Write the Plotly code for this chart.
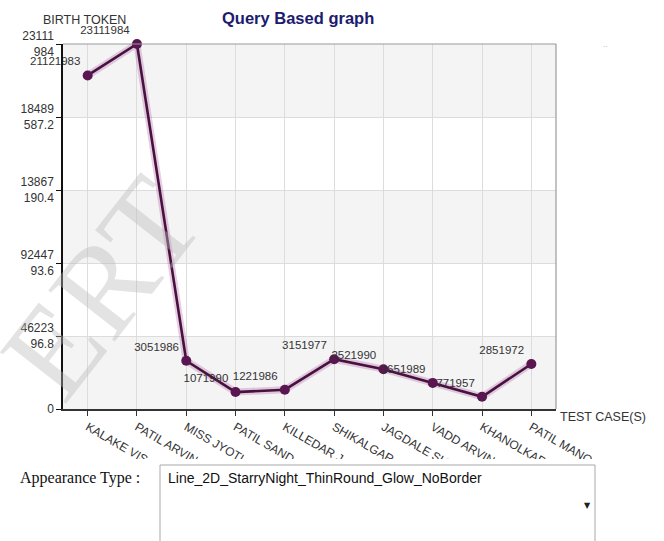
import plotly.graph_objects as go

# Test cases (x categories, truncated as displayed) and their birth tokens
categories = ["KALAKE VIS..", "PATIL ARVIN..", "MISS JYOTI ..", "PATIL SAND..", "KILLEDAR J..",
              "SHIKALGAR ..", "JAGDALE SU..", "VADD ARVIN..", "KHANOLKAR..", "PATIL MANO.."]
birth_token = [21121983, 23111984, 3051986, 1071990, 1221986,
               3151977, 2521990, 1651989, 771957, 2851972]

# Y axis ticks (value axis split into five steps) and their wrapped labels
y_max = 23111984
y_tickvals = [0, 4622396.8, 9244793.6, 13867190.4, 18489587.2, 23111984]
y_ticktext = ["0", "46223<br>96.8", "92447<br>93.6", "13867<br>190.4", "18489<br>587.2", "23111<br>984"]

W, H = 664, 541
ML, MR, MT, MB = 63, 108, 44, 132
PW, PH = W - ML - MR, H - MT - MB


def px(x):
    return (x - ML) / PW


def py(y):
    return (H - MB - y) / PH


fig = go.Figure()

# soft glow under the line
fig.add_trace(go.Scatter(
    x=categories, y=birth_token, mode="lines",
    line=dict(color="rgba(165,80,155,0.28)", width=7),
    hoverinfo="skip", showlegend=False, cliponaxis=False))

fig.add_trace(go.Scatter(
    x=categories, y=birth_token, mode="lines+markers+text",
    line=dict(color="#48113f", width=2.6),
    marker=dict(color="#5a1650", size=10),
    text=[str(v) for v in birth_token], textposition="top left",
    textfont=dict(family="Liberation Sans, Arial", size=11.5, color="#333333"),
    showlegend=False, cliponaxis=False))

shapes = []
# alternating horizontal bands
for i in range(5):
    shapes.append(dict(type="rect", xref="paper", yref="y", x0=0, x1=1,
                       y0=y_tickvals[i], y1=y_tickvals[i + 1],
                       fillcolor="#f4f4f4" if i % 2 == 0 else "#ffffff",
                       line=dict(width=0), layer="below"))
# top and right border of the plot area
shapes.append(dict(type="line", xref="paper", yref="paper", x0=0, x1=1, y0=1, y1=1,
                   line=dict(color="#9a9a9a", width=1.2)))
shapes.append(dict(type="line", xref="paper", yref="paper", x0=1, x1=1, y0=0, y1=1,
                   line=dict(color="#9a9a9a", width=1.2)))
# page area under the chart image
shapes.append(dict(type="rect", xref="paper", yref="paper",
                   x0=px(-5), x1=px(W + 5), y0=py(H + 5), y1=py(459),
                   fillcolor="white", line=dict(width=0), layer="above"))
# select box
shapes.append(dict(type="rect", xref="paper", yref="paper",
                   x0=px(160), x1=px(595), y0=py(H + 5), y1=py(465),
                   fillcolor="white", line=dict(color="#a9a9a9", width=1), layer="above"))


def note(text, x, y, xanchor="center", **kw):
    return dict(text=text, xref="paper", yref="paper", x=px(x), y=py(y),
                xanchor=xanchor, yanchor="middle", showarrow=False, **kw)


annotations = [
    note("<b>Query Based graph</b>", 298, 18,
         font=dict(family="Liberation Sans, Arial", size=16.5, color="#1c1c6e")),
    note("BIRTH TOKEN", 84, 20,
         font=dict(family="Liberation Sans, Arial", size=12.5, color="#333333")),
    note("TEST CASE(S)", 558, 417, xanchor="left",
         font=dict(family="Liberation Sans, Arial", size=12.5, color="#333333")),
    note("..", 605, 45,
         font=dict(family="Liberation Sans, Arial", size=8, color="#aaaaaa")),
    note("ERT", 102, 288, textangle=-52,
         font=dict(family="Liberation Serif, Times New Roman", size=128,
                   color="rgba(185,185,185,0.40)")),
    note("Appearance Type :", 18, 478, xanchor="left",
         font=dict(family="Liberation Serif, Times New Roman", size=16, color="#111111")),
    note("Line_2D_StarryNight_ThinRound_Glow_NoBorder", 166, 478, xanchor="left",
         font=dict(family="Liberation Sans, Arial", size=14, color="#111111")),
    note("▼", 587, 505,
         font=dict(family="DejaVu Sans", size=8, color="#222222")),
]

fig.update_layout(
    width=W, height=H,
    margin=dict(l=ML, r=MR, t=MT, b=MB),
    paper_bgcolor="white", plot_bgcolor="white",
    shapes=shapes, annotations=annotations,
    xaxis=dict(
        type="category", range=[-0.5, len(categories) - 0.5],
        showgrid=True, gridcolor="#dcdcdc", gridwidth=1,
        showline=True, linecolor="#333333", linewidth=1.5,
        ticks="outside", ticklen=5, tickcolor="#333333",
        tickangle=30,
        tickfont=dict(family="Liberation Sans, Arial", size=12, color="#333333"),
        zeroline=False, fixedrange=True),
    yaxis=dict(
        range=[0, y_max], tickvals=y_tickvals, ticktext=y_ticktext,
        showgrid=True, gridcolor="#dcdcdc", gridwidth=1,
        showline=True, linecolor="#111111", linewidth=1.5,
        ticks="outside", ticklen=5, tickcolor="#111111",
        tickfont=dict(family="Liberation Sans, Arial", size=12, color="#333333"),
        zeroline=False, fixedrange=True),
)

fig.write_html("out.html")
